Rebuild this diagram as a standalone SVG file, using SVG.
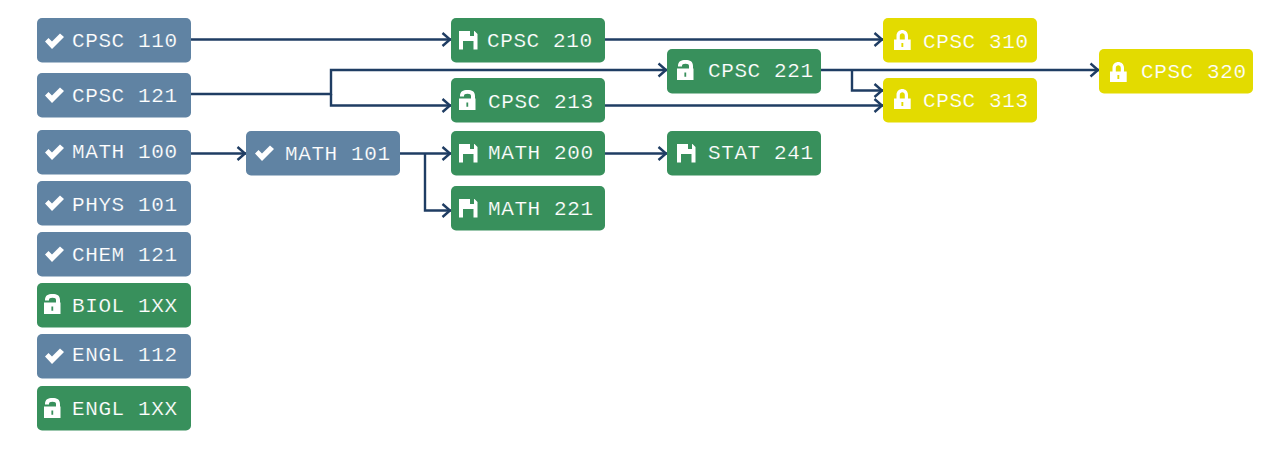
<svg xmlns="http://www.w3.org/2000/svg" width="1270" height="450" viewBox="0 0 1270 450">
<style>
.box{stroke:none}
.done{fill:#6083a3}
.open{fill:#38905c}
.lock{fill:#e3db00}
text{font-family:"Liberation Mono","Courier New",monospace;font-size:21px;fill:#fff;letter-spacing:.6px;stroke-width:.2px}
.t-done{stroke:#6083a3}
.t-open{stroke:#38905c}
.t-lock{stroke:#e3db00}
.ic{fill:#fff}
#connectors path{fill:none;stroke:#1f3d63;stroke-width:2.4}
</style>
<defs>
<marker id="arr" markerUnits="userSpaceOnUse" markerWidth="12" markerHeight="18" refX="10.500" refY="8" orient="auto"><path d="M2 1.500L9.500 8L2 14.500" fill="none" stroke="#1f3d63" stroke-width="2.400"/></marker>
<path id="check" d="M0 8.500L3.500 5L7 8.500L15 0.500L19 4L7 16Z"/>
<path id="floppy" fill-rule="evenodd" d="M0 0H15.500L18.500 3V18.500H14.500V10H4V18.500H0ZM11 0V5H15V0Z"/>
<path id="unlock" fill-rule="evenodd" d="M0 8.500H12V6C12 4.500 11 3.800 8.500 3.800C6 3.800 5 4.500 5 6V6.500H1V6C1 1.500 4 0 8.500 0C13 0 16 1.500 16 6V8.500H16.500V20H0ZM7.400 12.500V16.800H9.200V12.500Z"/>
<path id="lock" fill-rule="evenodd" d="M0 9.500H2.500V6C2.500 -2 14 -2 14 6V9.500H16.700V20H0ZM5.800 9.500H10.800V6C10.800 2.300 5.800 2.300 5.800 6ZM7.400 13V17H9.300V13Z"/>
</defs>
<g id="connectors">
<path d="M191 39.500H451" marker-end="url(#arr)"/>
<path d="M605 39.500H883" marker-end="url(#arr)"/>
<path d="M191 94H331V70H667" marker-end="url(#arr)"/>
<path d="M331 94V105.500H451" marker-end="url(#arr)"/>
<path d="M821 70H1099" marker-end="url(#arr)"/>
<path d="M852 70V90.500H883" marker-end="url(#arr)"/>
<path d="M605 105.500H883" marker-end="url(#arr)"/>
<path d="M191 153.500H246" marker-end="url(#arr)"/>
<path d="M400 153.500H451" marker-end="url(#arr)"/>
<path d="M425 153.500V210.500H451" marker-end="url(#arr)"/>
<path d="M605 153.500H667" marker-end="url(#arr)"/>
</g>
<g id="cpsc110"><rect class="box done" x="37" y="18" width="154" height="44.500" rx="5"/><use class="ic" href="#check" x="45" y="33"/><text class="t-done" x="72" y="47">CPSC 110</text></g>
<g id="cpsc121"><rect class="box done" x="37" y="73" width="154" height="44.500" rx="5"/><use class="ic" href="#check" x="45" y="87"/><text class="t-done" x="72" y="102">CPSC 121</text></g>
<g id="math100"><rect class="box done" x="37" y="130" width="154" height="44.500" rx="5"/><use class="ic" href="#check" x="45" y="144"/><text class="t-done" x="72" y="158">MATH 100</text></g>
<g id="phys101"><rect class="box done" x="37" y="181" width="154" height="44.500" rx="5"/><use class="ic" href="#check" x="45" y="195"/><text class="t-done" x="72" y="211">PHYS 101</text></g>
<g id="chem121"><rect class="box done" x="37" y="232" width="154" height="44.500" rx="5"/><use class="ic" href="#check" x="45" y="246"/><text class="t-done" x="72" y="261">CHEM 121</text></g>
<g id="biol1xx"><rect class="box open" x="37" y="283" width="154" height="44.500" rx="5"/><use class="ic" href="#unlock" x="44" y="294"/><text class="t-open" x="72" y="312">BIOL 1XX</text></g>
<g id="engl112"><rect class="box done" x="37" y="334" width="154" height="44.500" rx="5"/><use class="ic" href="#check" x="45" y="348"/><text class="t-done" x="72" y="361">ENGL 112</text></g>
<g id="engl1xx"><rect class="box open" x="37" y="386" width="154" height="44.500" rx="5"/><use class="ic" href="#unlock" x="44" y="398"/><text class="t-open" x="72" y="415">ENGL 1XX</text></g>
<g id="math101"><rect class="box done" x="246" y="131" width="154" height="44.500" rx="5"/><use class="ic" href="#check" x="255" y="145"/><text class="t-done" x="285" y="160">MATH 101</text></g>
<g id="cpsc210"><rect class="box open" x="451" y="18" width="154" height="44.500" rx="5"/><use class="ic" href="#floppy" x="459" y="31"/><text class="t-open" x="487" y="47">CPSC 210</text></g>
<g id="cpsc213"><rect class="box open" x="451" y="78" width="154" height="44.500" rx="5"/><use class="ic" href="#unlock" x="459" y="90"/><text class="t-open" x="488" y="108">CPSC 213</text></g>
<g id="math200"><rect class="box open" x="451" y="131" width="154" height="44.500" rx="5"/><use class="ic" href="#floppy" x="459" y="144"/><text class="t-open" x="488" y="159">MATH 200</text></g>
<g id="math221"><rect class="box open" x="451" y="186" width="154" height="44.500" rx="5"/><use class="ic" href="#floppy" x="459" y="199"/><text class="t-open" x="488" y="215">MATH 221</text></g>
<g id="cpsc221"><rect class="box open" x="667" y="49" width="154" height="44.500" rx="5"/><use class="ic" href="#unlock" x="677" y="60"/><text class="t-open" x="708" y="77">CPSC 221</text></g>
<g id="stat241"><rect class="box open" x="667" y="131" width="154" height="44.500" rx="5"/><use class="ic" href="#floppy" x="677" y="144"/><text class="t-open" x="708" y="159">STAT 241</text></g>
<g id="cpsc310"><rect class="box lock" x="883" y="18" width="154" height="44.500" rx="5"/><use class="ic" href="#lock" x="894" y="30"/><text class="t-lock" x="923" y="48">CPSC 310</text></g>
<g id="cpsc313"><rect class="box lock" x="883" y="78" width="154" height="44.500" rx="5"/><use class="ic" href="#lock" x="894" y="89"/><text class="t-lock" x="923" y="107">CPSC 313</text></g>
<g id="cpsc320"><rect class="box lock" x="1099" y="49" width="154" height="44.500" rx="5"/><use class="ic" href="#lock" x="1110" y="62"/><text class="t-lock" x="1141" y="78">CPSC 320</text></g>
</svg>
